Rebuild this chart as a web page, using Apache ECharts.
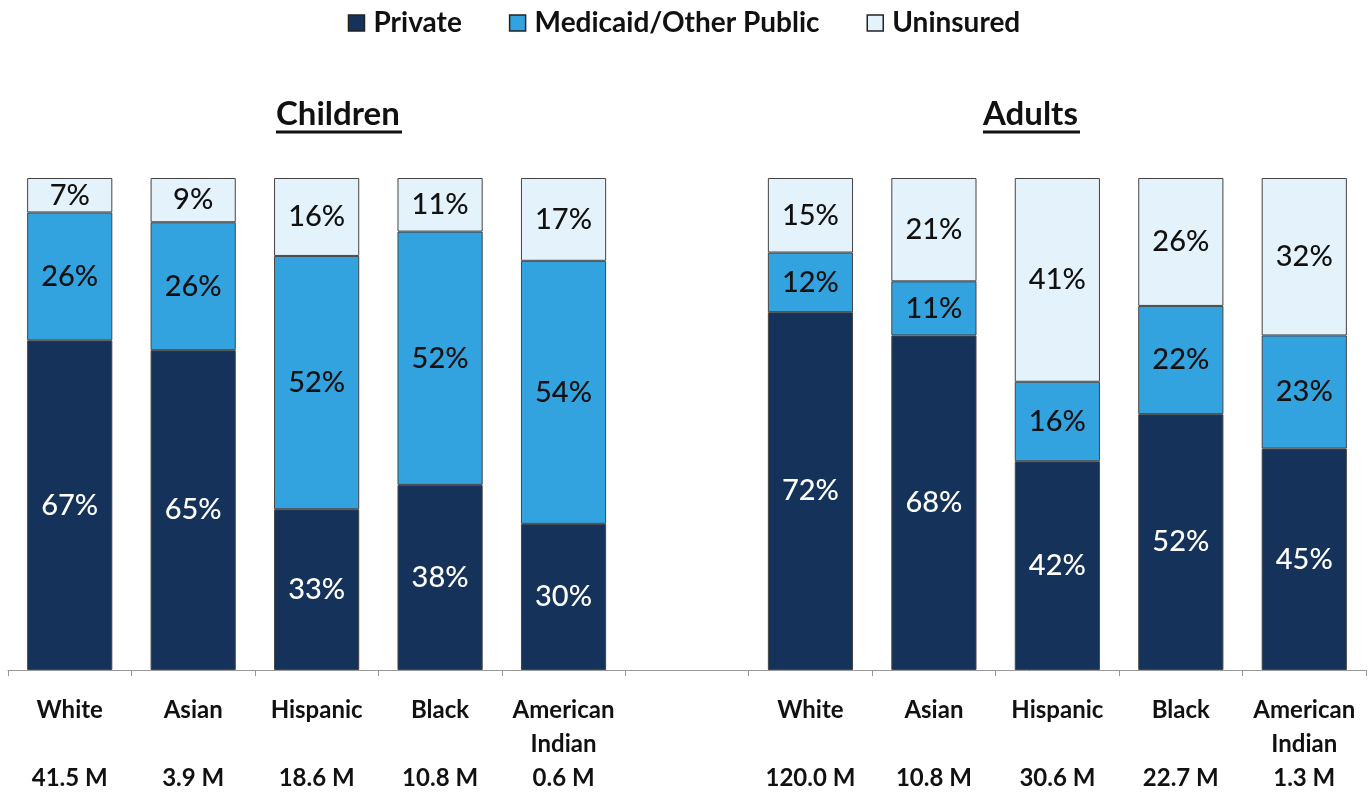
<!DOCTYPE html>
<html>
<head>
<meta charset="utf-8">
<script src="https://cdn.jsdelivr.net/npm/echarts@6/dist/echarts.min.js"></script>
<style>
  html, body { margin: 0; padding: 0; background: #fff; }
  #chart { width: 1368px; height: 794px; }
</style>
</head>
<body>
<div id="chart"></div>
<script>
// Categories (index 5 is the empty gap between Children and Adults)
const categories = ['White', 'Asian', 'Hispanic', 'Black', 'American\nIndian', '',
                    'White', 'Asian', 'Hispanic', 'Black', 'American\nIndian'];
const populations = ['41.5 M', '3.9 M', '18.6 M', '10.8 M', '0.6 M', '',
                     '120.0 M', '10.8 M', '30.6 M', '22.7 M', '1.3 M'];
const seriesNames = ['Private', 'Medicaid/Other Public', 'Uninsured'];
const privateVals   = [67, 65, 33, 38, 30, null, 72, 68, 42, 52, 45];
const medicaidVals  = [26, 26, 52, 52, 54, null, 12, 11, 16, 22, 23];
const uninsuredVals = [7, 9, 16, 11, 17, null, 15, 21, 41, 26, 32];
const groupTitles = ['Children', 'Adults'];

const colors = ['#15335a', '#33a3e0', '#e4f3fb'];
const labelColors = ['#ffffff', '#111111', '#111111'];
const FONT = 'Lato, "DejaVu Sans", sans-serif';

const allVals = [privateVals, medicaidVals, uninsuredVals];
const totals = categories.map((c, i) =>
  allVals.reduce((s, arr) => s + (arr[i] == null ? 0 : arr[i]), 0));

const series = allVals.map((arr, k) => ({
  name: seriesNames[k],
  type: 'bar',
  stack: 'total',
  barWidth: '69%',
  itemStyle: { color: colors[k], borderColor: '#444', borderWidth: 1 },
  label: {
    show: true,
    position: 'inside',
    color: labelColors[k],
    fontFamily: FONT,
    fontSize: 29,
    fontWeight: 500,
    formatter: p => p.data.raw + '%'
  },
  data: arr.map((v, i) => v == null ? null : { value: v / totals[i] * 100, raw: v })
}));

const chart = echarts.init(document.getElementById('chart'));
chart.setOption({
  backgroundColor: '#ffffff',
  animation: false,
  legend: {
    top: 4,
    left: 'center',
    itemWidth: 16,
    itemHeight: 16,
    itemGap: 47,
    icon: 'rect',
    itemStyle: { borderColor: '#222', borderWidth: 1.5 },
    textStyle: { fontFamily: FONT, fontSize: 28, fontWeight: 'bold', color: '#111', padding: [0, 0, 0, 4] },
    data: seriesNames
  },
  grid: { left: 8, right: 2, top: 178, bottom: 124, containLabel: false, outerBoundsMode: 'none' },
  xAxis: {
    type: 'category',
    data: categories,
    axisLine: { lineStyle: { color: '#999', width: 1 } },
    axisTick: { show: true, alignWithLabel: false, length: 6, lineStyle: { color: '#999' } },
    axisLabel: {
      interval: 0,
      margin: 23,
      fontFamily: FONT,
      fontSize: 24,
      fontWeight: 'bold',
      color: '#111',
      lineHeight: 34,
      formatter: (v, i) => {
        if (!v) return '';
        return v + (v.indexOf('\n') >= 0 ? '\n' : '\n\n') + populations[i];
      }
    }
  },
  yAxis: { type: 'value', min: 0, max: 100, show: false, splitLine: { show: false } },
  graphic: [
    { type: 'text', left: 276, top: 98, style: { text: groupTitles[0], font: 'bold 33px ' + FONT, fill: '#111' } },
    { type: 'line', shape: { x1: 276, y1: 132, x2: 402, y2: 132 }, style: { stroke: '#111', lineWidth: 3 } },
    { type: 'text', left: 983, top: 98, style: { text: groupTitles[1], font: 'bold 33px ' + FONT, fill: '#111' } },
    { type: 'line', shape: { x1: 983, y1: 132, x2: 1080, y2: 132 }, style: { stroke: '#111', lineWidth: 3 } }
  ],
  series: series
});
</script>
</body>
</html>
